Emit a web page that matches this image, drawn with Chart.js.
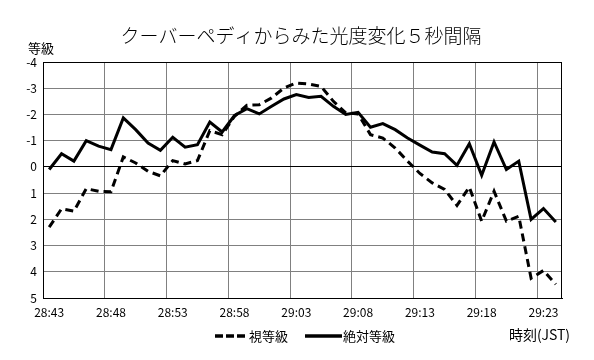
<!DOCTYPE html>
<html>
<head>
<meta charset="utf-8">
<title>クーバーペディからみた光度変化</title>
<script src="https://cdn.jsdelivr.net/npm/chart.js"></script>
<style>
html, body { margin: 0; padding: 0; background: #fff; }
#wrap { width: 594px; height: 360px; position: relative; }
</style>
</head>
<body>
<div id="wrap"><canvas id="lightCurve"></canvas></div>
<script>
// data
const times = [
  '28:43','28:44','28:45','28:46','28:47','28:48','28:49','28:50','28:51','28:52',
  '28:53','28:54','28:55','28:56','28:57','28:58','28:59','29:00','29:01','29:02',
  '29:03','29:04','29:05','29:06','29:07','29:08','29:09','29:10','29:11','29:12',
  '29:13','29:14','29:15','29:16','29:17','29:18','29:19','29:20','29:21','29:22',
  '29:23','29:24'
];
const apparentMag = [
  2.3, 1.6, 1.69, 0.83, 0.93, 0.95, -0.38, -0.15, 0.17, 0.34,
  -0.24, -0.11, -0.24, -1.38, -1.23, -1.93, -2.35, -2.37, -2.63, -3.01,
  -3.2, -3.16, -3.07, -2.5, -2.06, -2.02, -1.23, -1.1, -0.72, -0.22,
  0.25, 0.61, 0.86, 1.47, 0.77, 2.07, 0.93, 2.07, 1.88, 4.25,
  3.95, 4.48
];
const absoluteMag = [
  0.1, -0.5, -0.22, -1.0, -0.79, -0.66, -1.87, -1.42, -0.91, -0.63,
  -1.13, -0.75, -0.85, -1.71, -1.33, -1.96, -2.22, -2.02, -2.31, -2.59,
  -2.76, -2.65, -2.69, -2.31, -2.0, -2.08, -1.51, -1.65, -1.42, -1.1,
  -0.83, -0.57, -0.5, -0.06, -0.88, 0.32, -0.95, 0.1, -0.22, 2.0,
  1.59, 2.1
];
const seriesNames = ['視等級', '絶対等級'];
const titleText = 'クーバーペディからみた光度変化５秒間隔';
const yTitle = '等級';
const xTitle = '時刻(JST)';
const labelEvery = 5;

const JP = '"Noto Sans CJK JP", "Noto Sans", sans-serif';

// extra texts, frame and legend
const decor = {
  id: 'decor',
  beforeDatasetsDraw(chart) {
    const { ctx, chartArea: a } = chart;
    ctx.save();
    ctx.strokeStyle = '#000';
    ctx.lineWidth = 1;
    ctx.strokeRect(a.left + 0.5, a.top + 0.5, a.right - a.left - 1, a.bottom - a.top);
    ctx.restore();
  },
  afterDraw(chart) {
    const { ctx } = chart;
    ctx.save();
    ctx.fillStyle = '#000';
    ctx.textBaseline = 'middle';
    ctx.textAlign = 'center';
    ctx.font = '300 19px ' + JP;
    ctx.fillText(titleText, 301, 36);
    ctx.textAlign = 'left';
    ctx.font = '13px ' + JP;
    ctx.fillText(yTitle, 28, 48);
    ctx.font = '14px ' + JP;
    ctx.fillText(xTitle, 509, 335);

    // legend
    const ds = chart.data.datasets;
    ctx.strokeStyle = '#000';
    ctx.lineWidth = 3.5;
    ctx.setLineDash([8, 3]);
    ctx.beginPath(); ctx.moveTo(215, 336); ctx.lineTo(246, 336); ctx.stroke();
    ctx.setLineDash([]);
    ctx.beginPath(); ctx.moveTo(305, 336); ctx.lineTo(342, 336); ctx.stroke();
    ctx.font = '13px ' + JP;
    ctx.fillText(ds[0].label, 249, 336);
    ctx.fillText(ds[1].label, 343, 336);
    ctx.restore();
  }
};

new Chart(document.getElementById('lightCurve'), {
  type: 'line',
  data: {
    labels: times,
    datasets: [
      {
        label: seriesNames[0],
        data: apparentMag,
        borderColor: '#000',
        borderWidth: 3,
        borderDash: [8, 5],
        pointRadius: 0,
        tension: 0,
        fill: false
      },
      {
        label: seriesNames[1],
        data: absoluteMag,
        borderColor: '#000',
        borderWidth: 3,
        pointRadius: 0,
        tension: 0,
        fill: false
      }
    ]
  },
  options: {
    responsive: true,
    maintainAspectRatio: false,
    animation: false,
    layout: { padding: { top: 62, right: 32, left: 0, bottom: 0 } },
    plugins: {
      legend: { display: false },
      title: { display: false },
      tooltip: { enabled: false }
    },
    scales: {
      x: {
        offset: true,
        afterFit(axis) { axis.height = 62; },
        grid: {
          offset: true,
          drawTicks: false,
          color: c => (c.index % labelEvery === 0 ? '#808080' : 'rgba(0,0,0,0)'),
          lineWidth: 1
        },
        border: { color: '#000', width: 1 },
        ticks: {
          autoSkip: false,
          maxRotation: 0,
          padding: 7,
          color: '#000',
          font: { family: JP, size: 12 },
          callback(v, i) { return i % labelEvery === 0 ? this.getLabelForValue(v) : ''; }
        }
      },
      y: {
        reverse: true,
        min: -4,
        max: 5,
        afterFit(axis) { axis.width = 43; },
        grid: {
          drawTicks: false,
          color: c => (c.tick && (c.tick.value === 0 || c.tick.value === -4) ? '#000' : '#808080'),
          lineWidth: 1
        },
        border: { color: '#000', width: 1 },
        ticks: {
          stepSize: 1,
          padding: 6,
          color: '#000',
          font: { family: JP, size: 12 }
        }
      }
    }
  },
  plugins: [decor]
});
</script>
</body>
</html>
